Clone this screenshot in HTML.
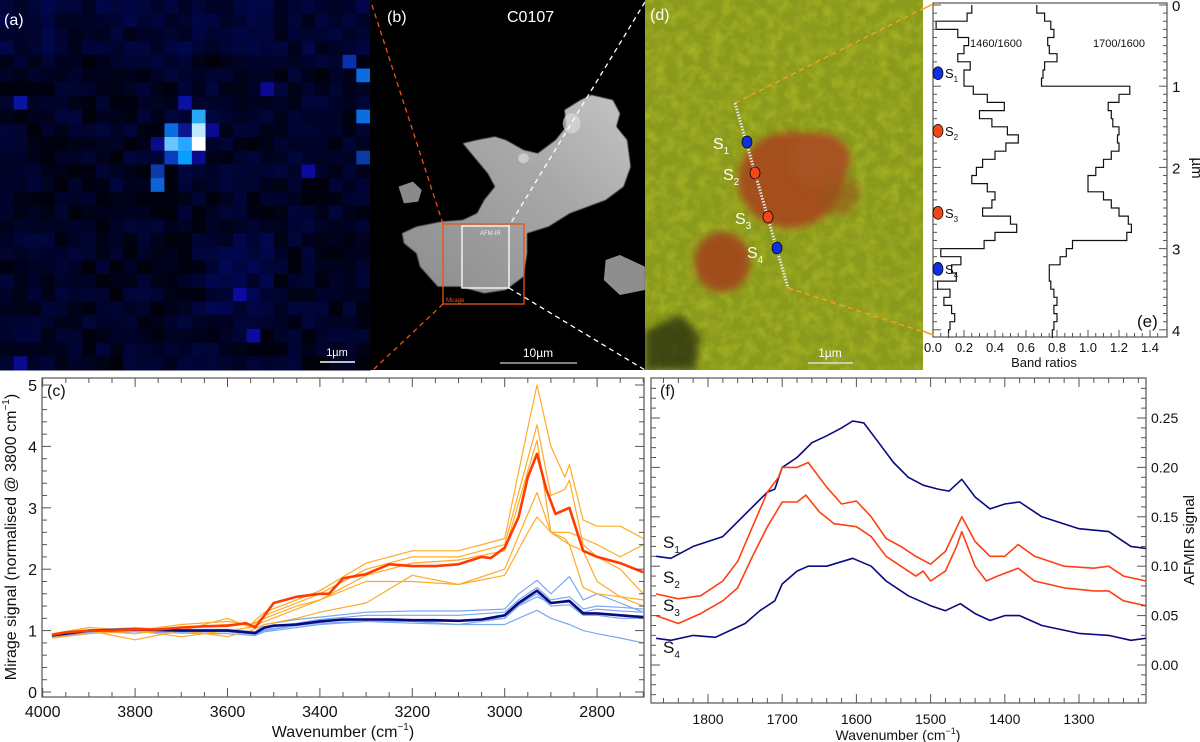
<!DOCTYPE html>
<html><head><meta charset="utf-8">
<style>
html,body{margin:0;padding:0;background:#fff;}
svg{display:block;font-family:"Liberation Sans",Arial,sans-serif;}
</style></head>
<body>
<svg id="fig" width="1200" height="742" viewBox="0 0 1200 742" xmlns="http://www.w3.org/2000/svg">
<defs>
  <filter id="tex" x="0" y="0" width="100%" height="100%">
    <feTurbulence type="fractalNoise" baseFrequency="0.09" numOctaves="3" seed="4" result="n"/>
    <feColorMatrix in="n" type="matrix" values="0 0 0 0 0  0 0 0 0 0  0 0 0 0 0  0 0 0 -1.6 1.0" result="a"/>
    <feComposite in="SourceGraphic" in2="a" operator="in"/>
  </filter>
  <filter id="blur4"><feGaussianBlur stdDeviation="4"/></filter>
  <filter id="blur2"><feGaussianBlur stdDeviation="1.5"/></filter>
  <linearGradient id="partg" x1="0" y1="1" x2="1" y2="0">
    <stop offset="0" stop-color="#8c8c8c"/><stop offset="0.6" stop-color="#a8a8a8"/><stop offset="1" stop-color="#c4c4c4"/>
  </linearGradient>
  <clipPath id="clipD"><rect x="645" y="0" width="279" height="370"/></clipPath>
  <clipPath id="clipC"><rect x="42" y="378" width="602" height="319"/></clipPath>
  <clipPath id="clipF"><rect x="651" y="378" width="495" height="325"/></clipPath>
</defs>

<!-- panel a -->
<g id="panelA"></g>
<text x="4" y="25" fill="#fff" font-size="16">(a)</text>
<line x1="320" y1="362" x2="355" y2="362" stroke="#fff" stroke-width="1.5"/>
<text x="337" y="356" fill="#fff" font-size="11" text-anchor="middle">1µm</text>

<!-- panel b -->
<g>
  <rect x="370" y="0" width="275" height="370" fill="#000"/>
  <g transform="translate(370,0) scale(0.357,0.3333)">
    <path d="M90,700 L130,680 L200,665 L260,660 L300,640 L320,600 L350,560 L330,520 L260,430 L300,420 L350,410 L380,420 L430,450 L470,460 L520,420 L550,380 L545,330 L590,300 L620,285 L680,300 L700,340 L690,380 L720,420 L730,500 L710,560 L660,600 L560,640 L500,680 L440,700 L440,760 L430,830 L380,870 L320,880 L250,860 L190,860 L140,800 L130,760 L95,730 Z" fill="url(#partg)" filter="url(#blur2)"/>
    <path d="M80,560 L120,545 L145,570 L135,605 L95,610 Z" fill="#8a8a8a"/>
    <path d="M660,780 L700,765 L770,800 L770,870 L700,885 L655,840 Z" fill="#8e8e8e"/>
    <ellipse cx="565" cy="370" rx="25" ry="30" fill="#d8d8d8" opacity="0.7"/>
    <ellipse cx="430" cy="475" rx="15" ry="15" fill="#dadada" opacity="0.7"/>
  </g>
  <line x1="372" y1="5" x2="443" y2="224" stroke="#f05010" stroke-width="1.3" stroke-dasharray="5,4"/>
  <line x1="443" y1="304" x2="373" y2="370" stroke="#f05010" stroke-width="1.3" stroke-dasharray="5,4"/>
  <line x1="645" y1="2" x2="509" y2="226" stroke="#fff" stroke-width="1.3" stroke-dasharray="5,4"/>
  <line x1="509" y1="288" x2="645" y2="370" stroke="#fff" stroke-width="1.3" stroke-dasharray="5,4"/>
  <rect x="443" y="224" width="81" height="80" fill="none" stroke="#f05010" stroke-width="1.3"/>
  <rect x="462" y="226" width="47" height="62" fill="none" stroke="#fff" stroke-width="1.3"/>
  <text x="480" y="235" fill="#eee" font-size="6">AFM-IR</text>
  <text x="446" y="302" fill="#f05010" font-size="6">Mirage</text>
</g>
<text x="387" y="22" fill="#fff" font-size="16">(b)</text>
<text x="507" y="22" fill="#fff" font-size="16">C0107</text>
<line x1="500" y1="363" x2="577" y2="363" stroke="#aaa" stroke-width="1.5"/>
<text x="538" y="357" fill="#fff" font-size="12" text-anchor="middle">10µm</text>

<!-- panel d -->
<g clip-path="url(#clipD)">
  <rect x="645" y="0" width="279" height="370" fill="#8a9a1c"/>
  <rect x="645" y="0" width="279" height="370" fill="#c8d030" filter="url(#tex)" opacity="0.55"/>
  <ellipse cx="790" cy="180" rx="52" ry="48" fill="#a5501e" filter="url(#blur4)"/>
  <ellipse cx="820" cy="160" rx="30" ry="27" fill="#a85222" filter="url(#blur4)"/>
  <ellipse cx="722" cy="262" rx="28" ry="30" fill="#a04e1e" filter="url(#blur4)"/>
  <ellipse cx="840" cy="195" rx="20" ry="20" fill="#96561e" filter="url(#blur4)" opacity="0.6"/>
  <path d="M645,330 L680,315 L700,335 L695,370 L645,370 Z" fill="#1a2008" filter="url(#blur4)" opacity="0.7"/>
  <line x1="735" y1="103" x2="930" y2="5" stroke="#f5a020" stroke-width="1.5" stroke-dasharray="5,4"/>
  <line x1="788" y1="288" x2="930" y2="334" stroke="#f5a020" stroke-width="1.5" stroke-dasharray="5,4"/>
  <line x1="735" y1="103" x2="788" y2="288" stroke="#e8e8e8" stroke-width="3" stroke-dasharray="1.5,1.5"/>
  <ellipse cx="747" cy="142" rx="5" ry="6" fill="#1030e0" stroke="#000" stroke-width="0.7"/>
  <ellipse cx="755" cy="173" rx="5" ry="6" fill="#f04818" stroke="#000" stroke-width="0.7"/>
  <ellipse cx="768" cy="217" rx="5" ry="6" fill="#f04818" stroke="#000" stroke-width="0.7"/>
  <ellipse cx="777" cy="248" rx="5" ry="6" fill="#1030e0" stroke="#000" stroke-width="0.7"/>
  <g fill="#fff" font-size="16">
    <text x="713" y="149">S<tspan font-size="10" dy="5">1</tspan></text>
    <text x="723" y="180">S<tspan font-size="10" dy="5">2</tspan></text>
    <text x="735" y="224">S<tspan font-size="10" dy="5">3</tspan></text>
    <text x="747" y="258">S<tspan font-size="10" dy="5">4</tspan></text>
  </g>
  <line x1="808" y1="363" x2="853" y2="363" stroke="#ddd" stroke-width="1.5"/>
  <text x="830" y="357" fill="#fff" font-size="12" text-anchor="middle">1µm</text>
</g>
<text x="650" y="20" fill="#fff" font-size="16">(d)</text>

<!-- chart groups -->
<g id="panelE"></g>
<g id="panelC"></g>
<g id="panelF"></g>
</svg>

<script>
// ---------- Panel (c) data ----------
const cRedW = [3980,3950,3900,3850,3800,3750,3700,3650,3600,3560,3540,3520,3500,3450,3400,3380,3350,3300,3250,3200,3150,3100,3050,3030,3000,2970,2950,2930,2910,2890,2860,2830,2800,2750,2700];
const cRedV = [0.93,0.97,1.0,1.0,1.02,1.02,1.05,1.07,1.08,1.12,1.05,1.25,1.45,1.55,1.6,1.6,1.85,1.92,2.08,2.05,2.05,2.08,2.2,2.18,2.35,2.85,3.5,3.88,3.3,2.9,3.0,2.3,2.2,2.1,1.95];
const cNavyW = [3980,3900,3800,3700,3600,3540,3520,3500,3450,3400,3350,3300,3250,3200,3150,3100,3050,3000,2970,2930,2900,2860,2830,2800,2750,2700];
const cNavyV = [0.92,1.0,1.02,1.0,1.0,0.96,1.05,1.08,1.1,1.15,1.18,1.18,1.18,1.17,1.17,1.16,1.18,1.25,1.45,1.65,1.45,1.48,1.28,1.28,1.25,1.22];
const cOrangeW = [3980,3900,3800,3700,3600,3550,3520,3450,3400,3300,3200,3100,3000,2950,2930,2900,2870,2860,2830,2800,2750,2700];
const cOrange1 = [0.95,1.05,1.0,1.1,1.15,1.1,1.3,1.5,1.65,2.1,2.3,2.3,2.5,4.3,5.0,4.0,3.5,3.7,2.8,2.7,2.7,2.5];
const cOrange2 = [0.9,1.0,1.05,1.0,1.2,1.05,1.25,1.45,1.6,2.0,2.2,2.2,2.4,3.8,4.35,3.2,3.3,3.45,2.4,2.2,2.0,1.6];
const cOrange3 = [0.92,1.0,0.95,1.05,1.1,1.1,1.2,1.4,1.5,1.9,2.1,2.15,2.3,3.6,4.1,2.6,2.6,2.6,2.5,2.4,2.2,2.4];
const cOrange4 = [0.88,0.95,1.0,0.9,1.0,1.05,1.15,1.35,1.5,1.8,1.8,1.75,2.0,2.9,3.25,2.6,2.45,2.4,2.3,1.8,1.55,1.5];
const cOrange5 = [0.9,1.0,0.85,1.0,0.9,1.0,1.1,1.2,1.3,1.45,1.9,1.75,1.9,2.6,2.85,2.6,2.5,2.4,1.7,1.6,1.55,1.4];
const cBlueW = [3980,3900,3800,3700,3600,3540,3520,3450,3400,3300,3200,3100,3000,2970,2930,2900,2860,2830,2800,2750,2700];
const cBlue1 = [0.93,1.0,1.03,1.02,1.02,0.98,1.1,1.18,1.22,1.3,1.32,1.32,1.35,1.6,1.82,1.6,1.88,1.5,1.6,1.45,1.3];
const cBlue2 = [0.92,1.0,1.02,1.0,1.0,0.96,1.05,1.12,1.18,1.25,1.25,1.25,1.3,1.5,1.7,1.5,1.55,1.35,1.4,1.38,1.35];
const cBlue3 = [0.92,0.98,1.0,1.0,1.0,0.95,1.02,1.08,1.15,1.18,1.15,1.15,1.2,1.42,1.6,1.4,1.42,1.25,1.25,1.2,1.2];
const cBlue4 = [0.9,0.98,1.0,0.98,0.98,0.94,1.0,1.08,1.12,1.15,1.15,1.1,1.2,1.4,1.55,1.45,1.5,1.3,1.35,1.32,1.3];
const cBlue5 = [0.9,0.96,0.98,0.96,0.95,0.92,0.98,1.05,1.1,1.15,1.12,1.1,1.1,1.2,1.33,1.2,1.1,1.0,0.95,0.88,0.8];
const cXTicks = [4000,3800,3600,3400,3200,3000,2800];
const cYTicks = [0,1,2,3,4,5];

// ---------- Panel (f) data ----------
const fS1W = [1870,1850,1820,1800,1780,1760,1740,1720,1710,1700,1680,1660,1640,1620,1605,1590,1570,1550,1530,1510,1490,1475,1458,1440,1420,1400,1380,1350,1300,1260,1230,1210];
const fS1V = [0.110,0.108,0.12,0.125,0.13,0.145,0.16,0.175,0.178,0.2,0.21,0.225,0.232,0.24,0.247,0.245,0.225,0.205,0.19,0.182,0.178,0.176,0.188,0.17,0.158,0.163,0.165,0.15,0.138,0.135,0.12,0.118];
const fS2W = [1870,1840,1810,1780,1760,1740,1720,1705,1700,1680,1665,1640,1620,1600,1580,1560,1540,1520,1500,1480,1458,1440,1420,1400,1382,1360,1320,1280,1260,1240,1210];
const fS2V = [0.072,0.067,0.07,0.085,0.105,0.14,0.175,0.19,0.2,0.2,0.205,0.18,0.163,0.166,0.15,0.128,0.12,0.11,0.102,0.115,0.15,0.125,0.11,0.11,0.122,0.11,0.1,0.098,0.1,0.09,0.085];
const fS3W = [1870,1840,1810,1780,1760,1740,1720,1700,1680,1668,1650,1630,1600,1580,1560,1540,1520,1510,1500,1480,1465,1458,1440,1425,1410,1382,1360,1320,1280,1260,1240,1210];
const fS3V = [0.05,0.042,0.052,0.065,0.078,0.11,0.14,0.165,0.165,0.172,0.155,0.143,0.14,0.13,0.11,0.1,0.09,0.095,0.085,0.095,0.12,0.135,0.1,0.085,0.09,0.098,0.085,0.078,0.075,0.075,0.065,0.06];
const fS4W = [1870,1850,1820,1790,1770,1750,1730,1710,1700,1680,1665,1640,1605,1580,1560,1530,1500,1480,1460,1440,1420,1400,1380,1350,1300,1260,1230,1210];
const fS4V = [0.027,0.025,0.03,0.028,0.035,0.042,0.055,0.065,0.082,0.095,0.1,0.1,0.108,0.1,0.085,0.07,0.06,0.055,0.062,0.052,0.045,0.05,0.05,0.04,0.032,0.03,0.025,0.027];
const fXTicks = [1800,1700,1600,1500,1400,1300];
const fYTicks = [0.00,0.05,0.10,0.15,0.20,0.25];

// ---------- Panel (e) data ----------
const eRatio1460 = [0.25,0.22,0.02,0.16,0.23,0.2,0.16,0.24,0.2,0.2,0.26,0.35,0.46,0.3,0.38,0.48,0.55,0.47,0.4,0.32,0.28,0.25,0.35,0.4,0.38,0.32,0.5,0.54,0.4,0.33,0.05,0.18,0.12,0.15,0.03,0.11,0.07,0.12,0.14,0.11,0.1];
const eRatio1700 = [0.67,0.72,0.76,0.78,0.74,0.75,0.8,0.72,0.71,0.7,1.27,1.2,1.13,1.15,1.16,1.2,1.19,1.2,1.15,1.1,1.05,1.0,1.0,1.1,1.15,1.2,1.26,1.28,1.25,0.9,0.86,0.82,0.75,0.75,0.76,0.78,0.8,0.78,0.8,0.78,0.77];
const eStep = 0.1;
const eXTicks = [0.0,0.2,0.4,0.6,0.8,1.0,1.2,1.4];
const eYTicks = [0,1,2,3,4];
const eSpotNames = ["1","2","3","4"];
const eSpotDepth = [0.84,1.55,2.56,3.25];
const eSpotColors = ["#1030e0","#f04818","#f04818","#1030e0"];

const NS = "http://www.w3.org/2000/svg";
function mk(parent, tag, attrs){ const e=document.createElementNS(NS,tag); for(const k in attrs) e.setAttribute(k,attrs[k]); parent.appendChild(e); return e; }

// ---------- Panel (a) pixel map (image texture) ----------
(function(){
  const g=document.getElementById('panelA');
  mk(g,'rect',{x:0,y:0,width:370,height:370,fill:'#000010'});
  let s=12345; function rnd(){ s=(s*1103515245+12345)&0x7fffffff; return s/0x7fffffff; }
  const n=27, c=370/27;
  const special={"14,8":"#2aa8f5","12,9":"#0a6de0","13,9":"#0a1890","14,9":"#bde6ff","15,9":"#0a0a90","12,10":"#6bc3ff","13,10":"#27a7ff","14,10":"#ffffff","11,10":"#0a0a8a","12,11":"#0a3dbd","13,11":"#07a0ff","14,11":"#0a0a90","11,12":"#0d3aa8","11,13":"#0d63d8","13,7":"#0a10a0","26,5":"#0a6de0","26,8":"#0a6de0","26,11":"#0a3aa8","25,4":"#0a30b0","1,7":"#0a12a0","19,6":"#0a0a90","22,12":"#0a0aa0","17,21":"#0a0aa0","18,24":"#0a0aa0","1,26":"#0a0a90"};
  for(let r=0;r<n;r++) for(let col=0;col<n;col++){
    const key=col+","+r;
    let fill=special[key];
    if(!fill){ const b=Math.round(10+rnd()*50+(r<4?15:0)+((col>14&&col<20&&r>16&&r<23)?25:0)); fill='rgb(0,'+Math.round(b*0.08)+','+b+')'; }
    mk(g,'rect',{x:(col*c).toFixed(2),y:(r*c).toFixed(2),width:(c+0.5).toFixed(2),height:(c+0.5).toFixed(2),fill:fill});
  }
})();

// ---------- Panel (c) ----------
(function(){
  const g=document.getElementById('panelC');
  const X=w=>42.7+(4000-w)*0.462, Y=v=>692-v*61.4;
  const L=42,R=644,T=378,B=697;
  mk(g,'rect',{x:L,y:T,width:R-L,height:B-T,fill:'#fff',stroke:'#555','stroke-width':1.2});
  const cl=mk(g,'g',{'clip-path':'url(#clipC)'});
  function line(ws,vs,color,w,name){
    const p=mk(cl,'polyline',{points:ws.map((x,i)=>X(x).toFixed(1)+','+Y(vs[i]).toFixed(1)).join(' '),fill:'none',stroke:color,'stroke-width':w,'stroke-linejoin':'round'});
    
    
  }
  [cBlue1,cBlue2,cBlue3,cBlue4,cBlue5].forEach((v,i)=>line(cBlueW,v,'#7aa8f0',1.2,'blue-spectrum-'+(i+1)));
  [cOrange1,cOrange2,cOrange3,cOrange4,cOrange5].forEach((v,i)=>line(cOrangeW,v,'#ffab28',1.2,'orange-spectrum-'+(i+1)));
  line(cNavyW,cNavyV,'#0a0a80',2.6,'blue-mean-spectrum');
  line(cRedW,cRedV,'#ff3c00',2.6,'orange-mean-spectrum');
  for(let w=4000;w>=2700;w-=50){ const maj=(w%200===0); const x=X(w); const l=maj?9:5;
    mk(g,'line',{x1:x,y1:B,x2:x,y2:B-l,stroke:'#555'}); mk(g,'line',{x1:x,y1:T,x2:x,y2:T+l,stroke:'#555'}); }
  for(let v=0;v<=5.001;v+=0.2){ const y=Y(v); const maj=Math.abs(v-Math.round(v))<0.01; const l=maj?9:5;
    mk(g,'line',{x1:L,y1:y,x2:L+l,y2:y,stroke:'#555'}); mk(g,'line',{x1:R,y1:y,x2:R-l,y2:y,stroke:'#555'}); }
  cXTicks.forEach(w=>{ const t=mk(g,'text',{x:X(w),y:717,'font-size':16,'text-anchor':'middle',fill:'#111'}); t.textContent=w;
      });
  cYTicks.forEach(v=>{ const t=mk(g,'text',{x:37,y:Y(v)+6,'font-size':16,'text-anchor':'end',fill:'#111'}); t.textContent=v;
      });
  const xt=mk(g,'text',{x:343,y:737,'font-size':16,'text-anchor':'middle',fill:'#111'});
  xt.innerHTML='Wavenumber (cm<tspan font-size="10" dy="-7">−1</tspan><tspan dy="7">)</tspan>';
   
  const yt=mk(g,'text',{x:0,y:0,'font-size':16,'text-anchor':'middle',fill:'#111',transform:'translate(16,537) rotate(-90)'});
  yt.innerHTML='Mirage signal (normalised @ 3800 cm<tspan font-size="10" dy="-7">−1</tspan><tspan dy="7">)</tspan>';
   
  const lb=mk(g,'text',{x:47,y:396,'font-size':16,fill:'#111'}); lb.textContent='(c)';
   
})();

// ---------- Panel (f) ----------
(function(){
  const g=document.getElementById('panelF');
  const X=w=>708+(1800-w)*0.742, Y=v=>665-v*988;
  const L=651,R=1146,T=378,B=703;
  mk(g,'rect',{x:L,y:T,width:R-L,height:B-T,fill:'#fff',stroke:'#555','stroke-width':1.2});
  const cl=mk(g,'g',{'clip-path':'url(#clipF)'});
  function line(ws,vs,color,name){
    const p=mk(cl,'polyline',{points:ws.map((x,i)=>X(x).toFixed(1)+','+Y(vs[i]).toFixed(1)).join(' '),fill:'none',stroke:color,'stroke-width':1.6,'stroke-linejoin':'round'});
    
    
  }
  line(fS1W,fS1V,'#0a0a80','s1-spectrum');
  line(fS4W,fS4V,'#0a0a80','s4-spectrum');
  line(fS2W,fS2V,'#ff4010','s2-spectrum');
  line(fS3W,fS3V,'#ff4010','s3-spectrum');
  for(let w=1860;w>=1220;w-=20){ const x=X(w); const l=(w%100===0)?9:5;
    mk(g,'line',{x1:x,y1:B,x2:x,y2:B-l,stroke:'#555'}); mk(g,'line',{x1:x,y1:T,x2:x,y2:T+l,stroke:'#555'}); }
  for(let k=-3;k<=28;k++){ const v=k/100; const y=Y(v); const l=(k%5===0)?9:5;
    mk(g,'line',{x1:L,y1:y,x2:L+l,y2:y,stroke:'#555'}); mk(g,'line',{x1:R,y1:y,x2:R-l,y2:y,stroke:'#555'}); }
  fXTicks.forEach(w=>{ const t=mk(g,'text',{x:X(w),y:724,'font-size':14,'text-anchor':'middle',fill:'#111'}); t.textContent=w;
      });
  fYTicks.forEach(v=>{ const t=mk(g,'text',{x:1151,y:Y(v)+5,'font-size':14,fill:'#111'}); t.textContent=v.toFixed(2);
      });
  const xt=mk(g,'text',{x:898,y:740,'font-size':14,'text-anchor':'middle',fill:'#111'});
  xt.innerHTML='Wavenumber (cm<tspan font-size="9" dy="-6">−1</tspan><tspan dy="6">)</tspan>';
   
  const yt=mk(g,'text',{x:0,y:0,'font-size':15,'text-anchor':'middle',fill:'#111',transform:'translate(1194,540) rotate(-90)'});
  yt.textContent='AFMIR signal';
   
  const labs=[["1",663,548],["2",663,583],["3",663,611],["4",663,653]];
  labs.forEach(a=>{ const t=mk(g,'text',{x:a[1],y:a[2],'font-size':17,fill:'#111'}); t.innerHTML='S<tspan font-size="10" dy="5">'+a[0]+'</tspan>';
      });
  const lb=mk(g,'text',{x:660,y:396,'font-size':16,fill:'#111'}); lb.textContent='(f)';
   
})();

// ---------- Panel (e) ----------
(function(){
  const g=document.getElementById('panelE');
  const X=r=>933+r*155, Y=d=>5+d*81.2;
  const L=933,R=1167,T=3,B=337;
  mk(g,'rect',{x:923,y:0,width:277,height:370,fill:'#fff'});
  mk(g,'rect',{x:L,y:T,width:R-L,height:B-T,fill:'#fff',stroke:'#555','stroke-width':1.2});
  function step(arr,name){
    let pts=[];
    arr.forEach((r,i)=>{ pts.push(X(r).toFixed(1)+','+Y(i*eStep).toFixed(1)); pts.push(X(r).toFixed(1)+','+Y((i+1)*eStep).toFixed(1)); });
    const p=mk(g,'polyline',{points:pts.join(' '),fill:'none',stroke:'#111','stroke-width':1.2});
    
    
  }
  step(eRatio1460,'ratio-1460-1600-profile');
  step(eRatio1700,'ratio-1700-1600-profile');
  for(let r=0;r<=1.5;r+=0.05){ const x=X(r); const maj=Math.abs(r*5-Math.round(r*5))<0.01; const l=maj?7:4;
    mk(g,'line',{x1:x,y1:B,x2:x,y2:B-l,stroke:'#555'}); }
  for(let d=0;d<=4.1;d+=0.1){ const y=Y(d); const maj=Math.abs(d-Math.round(d))<0.01; const l=maj?8:4;
    mk(g,'line',{x1:R,y1:y,x2:R-l,y2:y,stroke:'#555'}); mk(g,'line',{x1:L,y1:y,x2:L+l,y2:y,stroke:'#555'}); }
  eXTicks.forEach(r=>{ const t=mk(g,'text',{x:X(r),y:352,'font-size':13,'text-anchor':'middle',fill:'#111'}); t.textContent=r.toFixed(1);
      });
  eYTicks.forEach(d=>{ const t=mk(g,'text',{x:1172,y:Y(d)+6,'font-size':15,fill:'#111'}); t.textContent=d;
      });
  const xt=mk(g,'text',{x:1044,y:367,'font-size':13,'text-anchor':'middle',fill:'#111'}); xt.textContent='Band ratios';
   
  const yt=mk(g,'text',{x:0,y:0,'font-size':15,'text-anchor':'middle',fill:'#111',transform:'translate(1192,168) rotate(90)'}); yt.textContent='µm';
   
  const t1=mk(g,'text',{x:970,y:47,'font-size':11,fill:'#111'}); t1.textContent='1460/1600';
   
  const t2=mk(g,'text',{x:1093,y:47,'font-size':11,fill:'#111'}); t2.textContent='1700/1600';
   
  eSpotDepth.forEach((d,i)=>{
    const e=mk(g,'ellipse',{cx:938,cy:Y(d),rx:5,ry:6.5,fill:eSpotColors[i],stroke:'#000','stroke-width':0.7});
     
    const t=mk(g,'text',{x:945,y:Y(d)+5,'font-size':13,fill:'#111'}); t.innerHTML='S<tspan font-size="8" dy="4">'+eSpotNames[i]+'</tspan>';
     
  });
  const lb=mk(g,'text',{x:1137,y:327,'font-size':17,fill:'#111'}); lb.textContent='(e)';
   
  mk(g,'line',{x1:923,y1:9,x2:933,y2:4,stroke:'#f5a020','stroke-width':1.5});
  mk(g,'line',{x1:923,y1:331,x2:933,y2:335,stroke:'#f5a020','stroke-width':1.5});
})();
</script>
</body></html>
